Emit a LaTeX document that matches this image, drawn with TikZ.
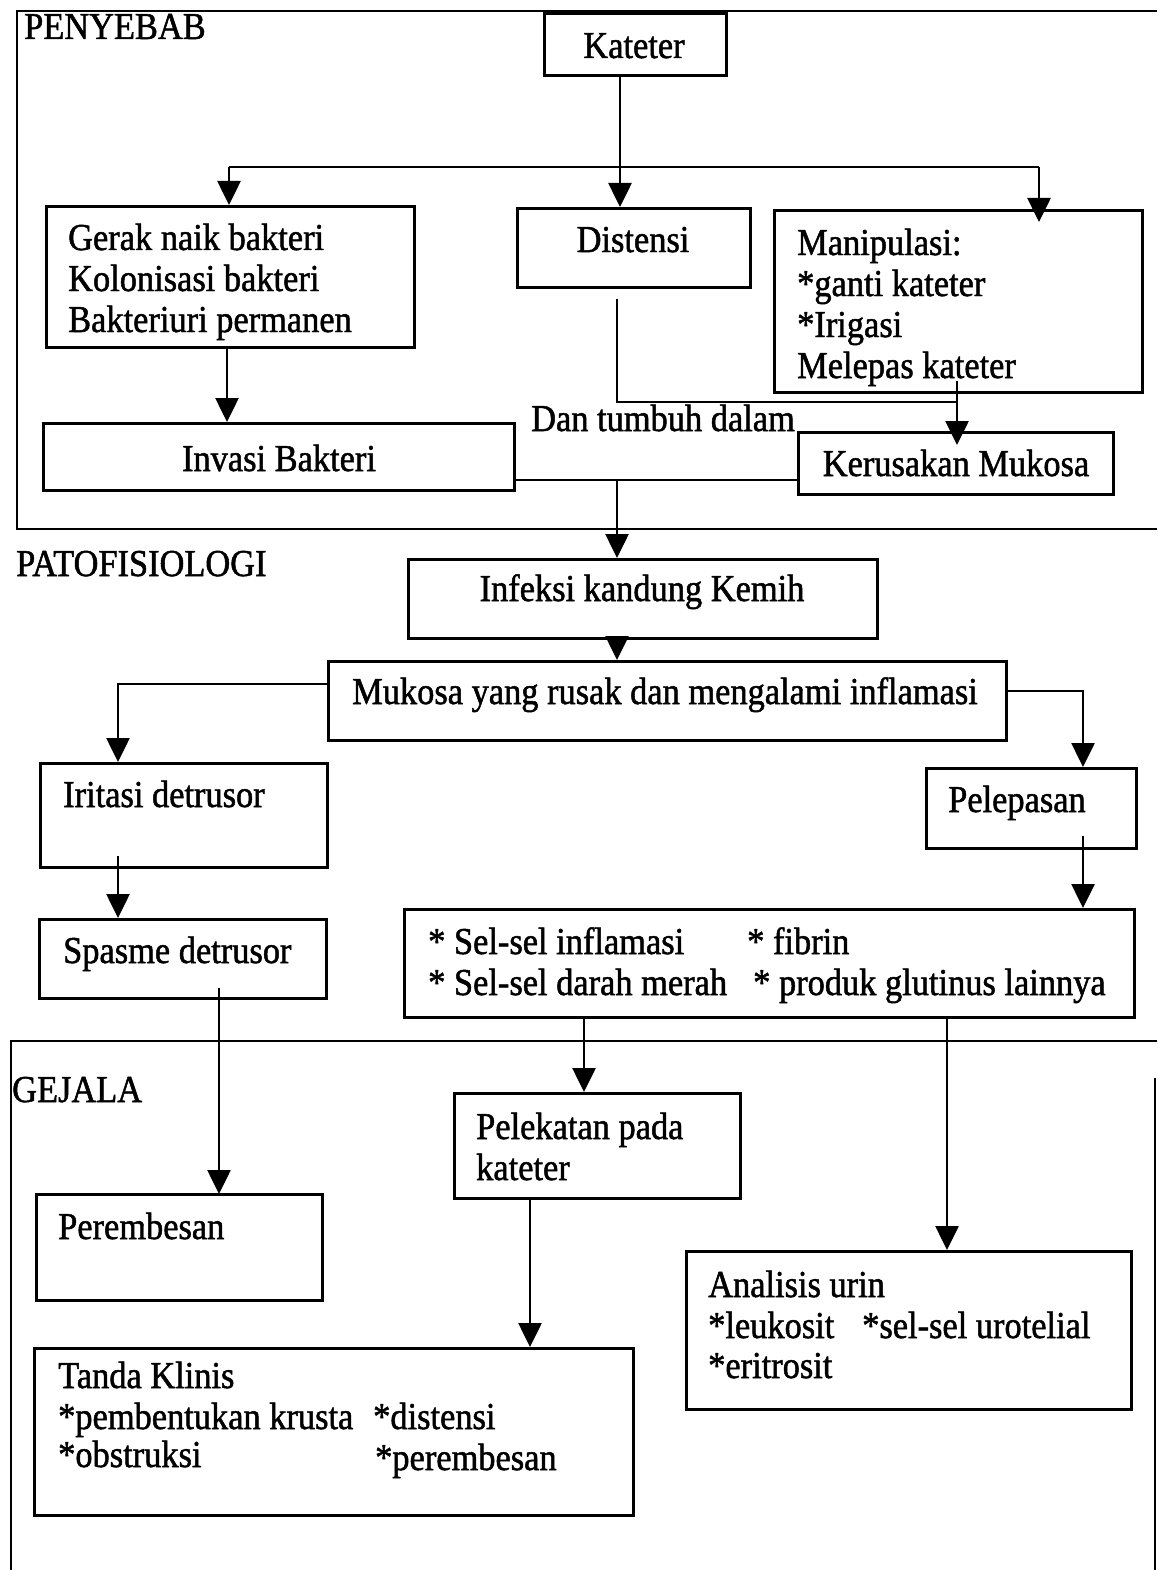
\documentclass[tikz,border=0pt]{standalone}
\usepackage{fontspec}
\setmainfont{Liberation Serif}[FakeStretch=0.905,FakeBold=1.3]
\usetikzlibrary{arrows.meta,calc}

\tikzset{
  box/.style={draw, line width=3pt, rectangle, anchor=north west, inner sep=0pt},
  lbl/.style={inner sep=0pt, anchor=base west, font=\fontsize{38}{41}\selectfont},
  ctr/.style={lbl, anchor=base},
  ln/.style={line width=2.6pt},
  arr/.style={ln, -{Triangle[length=24pt,width=23pt]}},
  frame/.style={line width=2.8pt}
}

\begin{document}
\begin{tikzpicture}[x=1pt,y=-1pt]
\useasboundingbox (0,0) rectangle (1157,1570);
% section frames
\draw[frame] (1157,11) -- (17,11) -- (17,529) -- (1157,529);
\draw[frame] (1157,1041) -- (11,1041) -- (11,1570);
\draw[frame] (1155,1078) -- (1155,1570);
\node[lbl] (penyebab) at (24,39) {PENYEBAB};
\node[lbl] (patofisiologi) at (16,576) {PATOFISIOLOGI};
\node[lbl] (gejala) at (12,1102) {GEJALA};

% boxes
\node[box, minimum width=182pt, minimum height=62pt] (kat) at (543,12) {};
\node[box, minimum width=368pt, minimum height=141pt] (ger) at (45,205) {};
\node[box, minimum width=233pt, minimum height=79pt] (dis) at (516,207) {};
\node[box, minimum width=368pt, minimum height=182pt] (man) at (773,209) {};
\node[box, minimum width=471pt, minimum height=67pt] (inv) at (42,422) {};
\node[box, minimum width=315pt, minimum height=62pt] (ker) at (797,431) {};
\node[box, minimum width=469pt, minimum height=79pt] (inf) at (407,558) {};
\node[box, minimum width=678pt, minimum height=79pt] (muk) at (327,660) {};
\node[box, minimum width=287pt, minimum height=104pt] (iri) at (39,762) {};
\node[box, minimum width=210pt, minimum height=80pt] (pel) at (925,767) {};
\node[box, minimum width=287pt, minimum height=79pt] (spa) at (38,918) {};
\node[box, minimum width=730pt, minimum height=108pt] (sel) at (403,908) {};
\node[box, minimum width=286pt, minimum height=105pt] (lek) at (453,1092) {};
\node[box, minimum width=286pt, minimum height=106pt] (per) at (35,1193) {};
\node[box, minimum width=445pt, minimum height=158pt] (ana) at (685,1250) {};
\node[box, minimum width=599pt, minimum height=167pt] (tan) at (33,1347) {};

% texts
\node[ctr] (katT) at (634,58) {Kateter};
\foreach \t [count=\i from 0] in {Gerak naik bakteri,Kolonisasi bakteri,Bakteriuri permanen}
  \node[lbl] (gerT\i) at (68,250+41*\i) {\t};
\node[ctr] (disT) at (633,252) {Distensi};
\foreach \t [count=\i from 0] in {Manipulasi:,*ganti kateter,*Irigasi,Melepas kateter}
  \node[lbl] (manT\i) at (797,255+41*\i) {\t};
\node[lbl] (danT) at (531,431) {Dan tumbuh dalam};
\node[ctr] (invT) at (279,471) {Invasi Bakteri};
\node[ctr] (kerT) at (956,476) {Kerusakan Mukosa};
\node[ctr] (infT) at (642,601) {Infeksi kandung Kemih};
\node[ctr] (mukT) at (665,704) {Mukosa yang rusak dan mengalami inflamasi};
\node[lbl] (iriT) at (63,807) {Iritasi detrusor};
\node[lbl] (pelT) at (948,812) {Pelepasan};
\node[lbl] (spaT) at (63,963) {Spasme detrusor};
\node[lbl] (selT1) at (428,954) {* Sel-sel inflamasi};
\node[lbl] (selT2) at (747,954) {* fibrin};
\node[lbl] (selT3) at (428,995) {* Sel-sel darah merah};
\node[lbl] (selT4) at (753,995) {* produk glutinus lainnya};
\node[lbl] (lekT0) at (476,1139) {Pelekatan pada};
\node[lbl] (lekT1) at (476,1180) {kateter};
\node[lbl] (perT) at (58,1239) {Perembesan};
\node[lbl] (anaT0) at (708,1297) {Analisis urin};
\node[lbl] (anaT1) at (708,1338) {*leukosit};
\node[lbl] (anaT2) at (862,1338) {*sel-sel urotelial};
\node[lbl] (anaT3) at (708,1378) {*eritrosit};
\node[lbl] (tanT0) at (58,1388) {Tanda Klinis};
\node[lbl] (tanT1) at (58,1429) {*pembentukan krusta};
\node[lbl] (tanT2) at (373,1429) {*distensi};
\node[lbl] (tanT3) at (58,1467) {*obstruksi};
\node[lbl] (tanT4) at (375,1470) {*perembesan};

% connector positions
\coordinate (vKat) at (620,0);
\coordinate (brL) at (229,167);
\coordinate (brR) at (1039,167);
\coordinate (vGer) at (227,0);
\coordinate (vDis) at (617,0);
\coordinate (dk) at (957,402);
\coordinate (jn) at (617,480);
\coordinate (mL) at (118,684);
\coordinate (mR) at (1083,691);
\coordinate (vSpa) at (219,0);
\coordinate (vSelL) at (584,0);
\coordinate (vSelR) at (947,0);
\coordinate (vLek) at (530,0);

% connectors
\draw[arr] (kat.south -| vKat) -- (dis.north -| vKat);
\draw[ln] (brL) -- (brR);
\draw[arr] (brL) -- (ger.north -| brL);
\draw[arr] (brR) -- ($(man.north -| brR)+(0,13)$);
\draw[arr] (ger.south -| vGer) -- (inv.north -| vGer);
\draw[ln] ($(dis.south -| vDis)+(0,10)$) |- (dk);
\draw[arr] ($(man.south -| dk)+(0,-13)$) -- ($(ker.north -| dk)+(0,14)$);
\draw[ln] (inv.east |- jn) -- (ker.west |- jn);
\draw[arr] (jn) -- (inf.north -| jn);
\draw[arr] (inf.south -| jn) -- (muk.north -| jn);
\draw[arr] (muk.west |- mL) -| (iri.north -| mL);
\draw[arr] (muk.east |- mR) -| (pel.north -| mR);
\draw[arr] ($(iri.south -| mL)+(0,-13)$) -- (spa.north -| mL);
\draw[arr] ($(pel.south -| mR)+(0,-14)$) -- (sel.north -| mR);
\draw[arr] ($(spa.south -| vSpa)+(0,-12)$) -- ($(per.north -| vSpa)+(0,1)$);
\draw[arr] (sel.south -| vSelL) -- (lek.north -| vSelL);
\draw[arr] (sel.south -| vSelR) -- (ana.north -| vSelR);
\draw[arr] (lek.south -| vLek) -- (tan.north -| vLek);
\end{tikzpicture}
\end{document}
